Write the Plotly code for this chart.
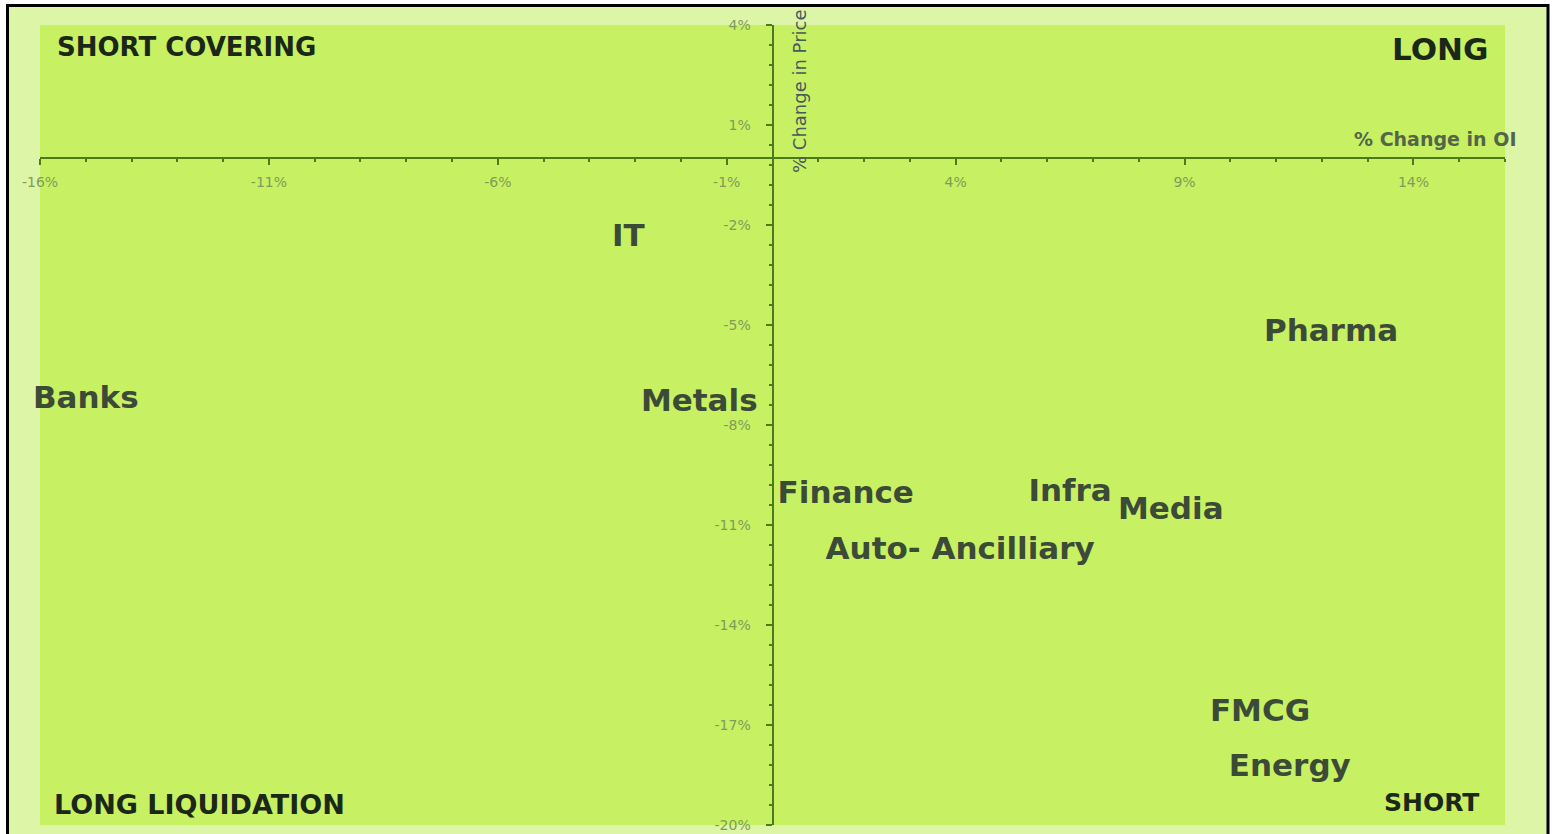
import plotly.graph_objects as go

# Sector positioning: % change in open interest (x) vs % change in price (y)
sectors = ["IT", "Banks", "Metals", "Pharma", "Finance", "Infra",
           "Media", "Auto- Ancilliary", "FMCG", "Energy"]
oi_change = [-3.15, -15.0, -1.6, 12.2, 1.6, 6.5, 8.7, 4.1, 10.65, 11.3]
price_change = [-2.4, -7.25, -7.35, -5.25, -10.1, -10.05, -10.6, -11.8, -16.65, -18.3]

x_ticks = [-16, -11, -6, -1, 4, 9, 14]
y_ticks = [4, 1, -2, -5, -8, -11, -14, -17, -20]
x_range = [-16, 16]
y_range = [-20, 4]

W, H = 1556, 834
ML, MR, MT, MB = 40, 51, 25, 9
PW, PH = W - ML - MR, H - MT - MB


def px_x(px):
    return (px - ML) / PW


def px_y(py):
    return (H - MB - py) / PH


AXIS = "#4e7a1e"
TICKTXT = "#7f9c58"
LABEL = "#3c4a38"
QUAD = "#1b2818"
FONT = "DejaVu Sans"

fig = go.Figure()
fig.add_trace(go.Scatter(
    x=oi_change, y=price_change, text=sectors,
    mode="text", textposition="middle center", cliponaxis=False,
    textfont=dict(family=FONT, size=31, color=LABEL, weight="bold"),
    hoverinfo="text", showlegend=False,
))

x_pos = (0 - y_range[0]) / (y_range[1] - y_range[0])
y_pos = (0 - x_range[0]) / (x_range[1] - x_range[0])

fig.update_xaxes(
    range=x_range, anchor="free", position=x_pos, automargin=False,
    showgrid=False, zeroline=False,
    showline=True, linecolor=AXIS, linewidth=2,
    tickmode="array", tickvals=x_ticks, ticktext=[f"{v}%" for v in x_ticks],
    ticks="outside", ticklen=6, tickwidth=2, tickcolor=AXIS,
    ticklabelstandoff=5,
    minor=dict(dtick=1, tick0=-16, ticks="outside", ticklen=3,
               tickwidth=1.5, tickcolor=AXIS),
    tickfont=dict(family=FONT, size=14, color=TICKTXT),
)
fig.update_yaxes(
    range=y_range, anchor="free", position=y_pos, automargin=False,
    showgrid=False, zeroline=False,
    showline=True, linecolor=AXIS, linewidth=2,
    tickmode="array", tickvals=y_ticks, ticktext=[f"{v}%" for v in y_ticks],
    ticks="outside", ticklen=6, tickwidth=2, tickcolor=AXIS,
    ticklabelstandoff=12,
    minor=dict(dtick=0.6, tick0=4, ticks="outside", ticklen=3,
               tickwidth=1.5, tickcolor=AXIS),
    tickfont=dict(family=FONT, size=14, color=TICKTXT),
)

annotations = [
    dict(text="SHORT COVERING", x=px_x(55), y=px_y(47), xanchor="left",
         yanchor="middle", font=dict(family=FONT, size=26, color=QUAD, weight="bold")),
    dict(text="LONG", x=px_x(1490), y=px_y(49), xanchor="right",
         yanchor="middle", font=dict(family=FONT, size=31, color=QUAD, weight="bold")),
    dict(text="LONG LIQUIDATION", x=px_x(52), y=px_y(804), xanchor="left",
         yanchor="middle", font=dict(family=FONT, size=27, color=QUAD, weight="bold")),
    dict(text="SHORT", x=px_x(1481), y=px_y(802), xanchor="right",
         yanchor="middle", font=dict(family=FONT, size=25, color=QUAD, weight="bold")),
    dict(text="% Change in OI", x=px_x(1518), y=px_y(139), xanchor="right",
         yanchor="middle", font=dict(family=FONT, size=19, color="#55654a", weight="bold")),
    dict(text="% Change in Price", x=px_x(799), y=px_y(91), xanchor="center",
         yanchor="middle", textangle=-90,
         font=dict(family=FONT, size=18, color="#4a5862")),
]
for a in annotations:
    a.update(xref="paper", yref="paper", showarrow=False)

shapes = [
    # white strips outside the frame
    dict(type="rect", x0=px_x(0), x1=px_x(6), y0=px_y(H), y1=px_y(0),
         fillcolor="white", line_width=0, layer="above"),
    dict(type="rect", x0=px_x(0), x1=px_x(W), y0=px_y(4), y1=px_y(0),
         fillcolor="white", line_width=0, layer="above"),
    dict(type="rect", x0=px_x(1549), x1=px_x(W), y0=px_y(H), y1=px_y(0),
         fillcolor="white", line_width=0, layer="above"),
    # black frame
    dict(type="rect", x0=px_x(7.5), x1=px_x(1548), y0=px_y(H + 10), y1=px_y(5.5),
         line=dict(color="black", width=3), fillcolor="rgba(0,0,0,0)", layer="above"),
]
for s in shapes:
    s.update(xref="paper", yref="paper")

fig.update_layout(
    width=W, height=H,
    margin=dict(l=ML, r=MR, t=MT, b=MB, pad=0),
    paper_bgcolor="#ddf5a6",
    plot_bgcolor="#c8f063",
    annotations=annotations,
    shapes=shapes,
    font=dict(family=FONT),
)

fig.write_html("out.html")
